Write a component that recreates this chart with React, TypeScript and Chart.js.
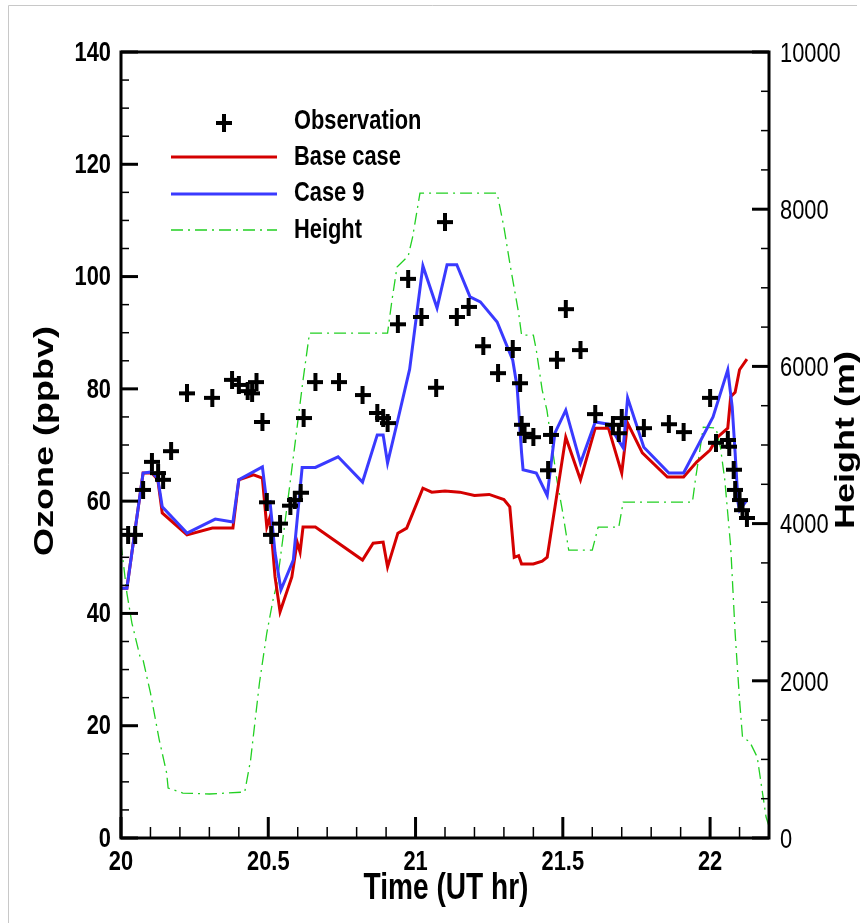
import React, { useEffect, useRef } from "react";
import { Chart, registerables } from "chart.js";

Chart.register(...registerables);

// ---------- data ----------
const obsTime = [
  20.024, 20.048, 20.075, 20.105, 20.126, 20.143, 20.17, 20.224, 20.31, 20.377,
  20.4, 20.43, 20.445, 20.46, 20.48, 20.495, 20.51, 20.54, 20.575, 20.59,
  20.61, 20.62, 20.66, 20.74, 20.82, 20.87, 20.89, 20.905, 20.94, 20.975,
  21.02, 21.07, 21.1, 21.14, 21.18, 21.23, 21.28, 21.33, 21.355, 21.36,
  21.37, 21.4, 21.45, 21.46, 21.48, 21.51, 21.56, 21.61, 21.67, 21.69,
  21.7, 21.775, 21.86, 21.91, 22.0, 22.02, 22.06, 22.065, 22.08, 22.085,
  22.1, 22.11, 22.125,
];
const obsOzone = [
  54, 54, 62, 67, 65, 63.8, 68.9, 79.2, 78.4, 81.6,
  80.7, 79.6, 79.2, 81.2, 74.1, 59.8, 54, 56, 59.2, 60.2,
  61.5, 74.8, 81.2, 81.2, 78.9, 75.7, 74.8, 73.9, 91.5, 99.6,
  92.8, 80.2, 109.7, 92.8, 94.6, 87.6, 82.8, 87.1, 81, 73.6,
  72, 71.4, 65.5, 71.8, 85.2, 94.2, 86.9, 75.5, 73.6, 72.1,
  74.8, 73, 73.7, 72.3, 78.4, 70.4, 70.9, 69.7, 65.6, 62,
  60.2, 58.4, 57,
];

const baseTime = [
  20.0, 20.02, 20.075, 20.105, 20.125, 20.14, 20.224, 20.31, 20.38, 20.4,
  20.45, 20.48, 20.495, 20.506, 20.523, 20.54, 20.58, 20.598, 20.608, 20.618,
  20.66, 20.82, 20.856, 20.89, 20.905, 20.94, 20.97, 21.025, 21.055, 21.1,
  21.15, 21.2, 21.25, 21.3, 21.32, 21.335, 21.35, 21.36, 21.4, 21.43,
  21.447, 21.51, 21.56, 21.61, 21.655, 21.7, 21.72, 21.77, 21.855, 21.91,
  21.955, 22.0, 22.025, 22.06, 22.07, 22.085, 22.1, 22.125,
];
const baseOzone = [
  44.5, 44.5, 65, 65, 63.8, 57.9, 54, 55.2, 55.2, 63.8,
  64.7, 64.1, 55.4, 57.2, 46.5, 40.3, 46.5, 52.7, 50.9, 55.4,
  55.4, 49.5, 52.5, 52.7, 48.3, 54.3, 55.2, 62.3, 61.6, 61.8,
  61.6, 61.0, 61.2, 60.3, 59, 50, 50.3, 48.8, 48.8, 49.3,
  50, 71.4, 63.8, 73, 73, 65, 73.9, 68.6, 64.3, 64.3,
  67, 69.1, 71.4, 73, 78.6, 79.4, 83.4, 85.3,
];

const case9Time = [
  20.0, 20.02, 20.075, 20.105, 20.125, 20.14, 20.224, 20.32, 20.38, 20.4,
  20.48, 20.495, 20.506, 20.523, 20.543, 20.585, 20.615, 20.66, 20.737, 20.82,
  20.87, 20.89, 20.905, 20.94, 20.98, 21.01, 21.025, 21.073, 21.107, 21.14,
  21.185, 21.22, 21.277, 21.33, 21.345, 21.36, 21.365, 21.41, 21.447, 21.473,
  21.51, 21.56, 21.61, 21.655, 21.705, 21.72, 21.775, 21.86, 21.91, 22.01,
  22.06, 22.075, 22.085, 22.095, 22.1, 22.125,
];
const case9Ozone = [
  44.5, 44.5, 65, 65.2, 64, 59, 54.3, 56.8, 56.3, 63.8,
  66.1, 59.7, 59.9, 50.8, 44.2, 49.5, 66, 66, 67.9, 63.4,
  71.8, 71.8, 66.8, 74.5, 83.5, 95.8, 101.9, 94.4, 102.1, 102.1,
  96.4, 95.5, 91.9, 85.1, 80.3, 68.6, 65.6, 65, 61, 72.1,
  76.2, 66.8, 74.1, 73.7, 69.5, 78.4, 69.6, 65, 65, 75,
  83.4, 76.8, 68.6, 59.7, 58.4, 60.2,
];

const heightTime = [
  20.0, 20.02, 20.037, 20.065, 20.075, 20.1, 20.13, 20.155, 20.16, 20.21,
  20.3, 20.42, 20.44, 20.47, 20.495, 20.516, 20.53, 20.574, 20.618, 20.64,
  20.905, 20.92, 20.937, 20.975, 20.99, 21.015, 21.277, 21.3, 21.32, 21.35,
  21.36, 21.4, 21.41, 21.43, 21.446, 21.48, 21.5, 21.52, 21.6, 21.62,
  21.69, 21.705, 21.94, 21.95, 21.977, 22.02, 22.035, 22.05, 22.07, 22.085,
  22.1, 22.11, 22.135, 22.16, 22.17, 22.19, 22.2,
];
const heightMeters = [
  3750, 3116, 2735, 2300, 2264, 1845, 1246, 827, 636, 572,
  560, 585, 992, 1972, 2608, 3027, 3244, 4516, 5826, 6424,
  6424, 6843, 7263, 7403, 7645, 8204, 8204, 7772, 7314, 6678,
  6398, 6398, 6207, 5699, 5444, 4554, 4134, 3663, 3663, 3956,
  3956, 4274, 4274, 4554, 5228, 5215, 4973, 4554, 3702, 2608,
  1755, 1285, 1221, 1030, 776, 267, 150,
];

const ozoneTicks = [0, 20, 40, 60, 80, 100, 120, 140];
const heightTicks = [0, 2000, 4000, 6000, 8000, 10000];
const timeTicks = [20, 20.5, 21, 21.5, 22];
const legendLabels = ["Observation", "Base case", "Case 9", "Height"];
const xTitle = "Time (UT hr)";
const yTitle = "Ozone (ppbv)";
const y2Title = "Height (m)";

// ---------- styles ----------
const RED = "#d40000";
const BLUE = "#3a3aff";
const GREEN = "#22d022";
const GREEN_DASH = [12, 5, 2, 5];
const SX = 0.78;
const FF = '"Liberation Sans", Arial, Helvetica, sans-serif';

function makeCross(): HTMLCanvasElement {
  const c = document.createElement("canvas");
  c.width = 16;
  c.height = 18;
  const g = c.getContext("2d") as CanvasRenderingContext2D;
  g.fillStyle = "#000";
  g.fillRect(0, 7, 16, 4);
  g.fillRect(6, 0, 4, 18);
  return c;
}

function drawText(
  ctx: CanvasRenderingContext2D,
  s: string,
  x: number,
  y: number,
  font: string,
  align: CanvasTextAlign,
  rotate = false
) {
  ctx.save();
  ctx.translate(x, y);
  ctx.scale(SX, 1);
  if (rotate) ctx.rotate(-Math.PI / 2);
  ctx.font = font;
  ctx.textAlign = align;
  ctx.textBaseline = "middle";
  ctx.fillStyle = "#000";
  ctx.fillText(s, 0, 0);
  ctx.restore();
}

function tick(ctx: CanvasRenderingContext2D, x1: number, y1: number, x2: number, y2: number, w: number) {
  ctx.lineWidth = w;
  ctx.beginPath();
  ctx.moveTo(x1, y1);
  ctx.lineTo(x2, y2);
  ctx.stroke();
}

export default function App() {
  const ref = useRef<HTMLCanvasElement | null>(null);

  useEffect(() => {
    const canvas = ref.current;
    if (!canvas) return;
    const cross = makeCross();

    const decor = {
      id: "decor",
      beforeDraw(chart: any) {
        const ctx = chart.ctx as CanvasRenderingContext2D;
        ctx.save();
        ctx.fillStyle = "#fff";
        ctx.fillRect(0, 0, chart.width, chart.height);
        ctx.strokeStyle = "#c8c8c8";
        ctx.lineWidth = 1;
        ctx.beginPath();
        ctx.moveTo(8.5, chart.height);
        ctx.lineTo(8.5, 5.5);
        ctx.lineTo(857, 5.5);
        ctx.stroke();
        ctx.restore();
      },
      afterDraw(chart: any) {
        const ctx = chart.ctx as CanvasRenderingContext2D;
        const a = chart.chartArea;
        const xs = chart.scales.x;
        const ys = chart.scales.y;
        const y2 = chart.scales.y2;
        ctx.save();
        ctx.strokeStyle = "#000";
        ctx.lineCap = "butt";

        // left axis ticks (inward)
        for (let v = 0; v <= 140; v += 5) {
          const py = ys.getPixelForValue(v);
          const major = v % 20 === 0;
          tick(ctx, a.left, py, a.left + (major ? 17 : 8), py, major ? 3 : 1.5);
        }
        // right axis ticks
        for (let v = 0; v <= 10000; v += 500) {
          const py = y2.getPixelForValue(v);
          const major = v % 2000 === 0;
          tick(ctx, a.right, py, a.right - (major ? 17 : 8), py, major ? 3 : 1.5);
        }
        // bottom ticks
        for (let i = 0; i <= 22; i++) {
          const v = 20 + i / 10;
          const px = xs.getPixelForValue(v);
          const major = i % 5 === 0;
          tick(ctx, px, a.bottom, px, a.bottom - (major ? 21 : 11), major ? 3 : 1.5);
        }
        // frame
        ctx.lineWidth = 3;
        ctx.strokeRect(a.left, a.top, a.right - a.left, a.bottom - a.top);

        // tick labels
        ozoneTicks.forEach((v) => {
          drawText(ctx, String(v), a.left - 10, ys.getPixelForValue(v) + 1, `bold 28px ${FF}`, "right");
        });
        heightTicks.forEach((v) => {
          drawText(ctx, String(v), a.right + 11, y2.getPixelForValue(v) + 2, `28px ${FF}`, "left");
        });
        timeTicks.forEach((v) => {
          drawText(ctx, String(v), xs.getPixelForValue(v), a.bottom + 24, `bold 28px ${FF}`, "center");
        });

        // axis titles
        drawText(ctx, xTitle, (a.left + a.right) / 2 + 1, a.bottom + 51, `bold 36px ${FF}`, "center");
        drawText(ctx, yTitle, 45, (a.top + a.bottom) / 2 - 4, `bold 36px ${FF}`, "center", true);
        drawText(ctx, y2Title, 846, (a.top + a.bottom) / 2 - 5, `bold 36px ${FF}`, "center", true);

        // legend
        const lx1 = 171, lx2 = 277, tx = 294;
        const rows = [121, 157, 193, 230];
        ctx.drawImage(cross, 224 - 8, rows[0] + 2 - 9);
        ctx.lineWidth = 3;
        ctx.strokeStyle = RED;
        ctx.beginPath(); ctx.moveTo(lx1, rows[1]); ctx.lineTo(lx2, rows[1]); ctx.stroke();
        ctx.strokeStyle = BLUE;
        ctx.beginPath(); ctx.moveTo(lx1, rows[2] + 1); ctx.lineTo(lx2, rows[2] + 1); ctx.stroke();
        ctx.strokeStyle = GREEN;
        ctx.lineWidth = 1.3;
        ctx.setLineDash(GREEN_DASH);
        ctx.beginPath(); ctx.moveTo(lx1, rows[3]); ctx.lineTo(lx2, rows[3]); ctx.stroke();
        ctx.setLineDash([]);
        legendLabels.forEach((l, i) => {
          drawText(ctx, l, tx, rows[i], `bold 28px ${FF}`, "left");
        });
        ctx.restore();
      },
    };

    const chart = new Chart(canvas, {
      type: "line",
      data: {
        datasets: [
          {
            label: legendLabels[0],
            data: obsTime.map((t, i) => ({ x: t, y: obsOzone[i] })),
            showLine: false,
            pointStyle: cross as any,
            pointRadius: 8,
            yAxisID: "y",
            order: 0,
          },
          {
            label: legendLabels[2],
            data: case9Time.map((t, i) => ({ x: t, y: case9Ozone[i] })),
            borderColor: BLUE,
            borderWidth: 3,
            pointRadius: 0,
            tension: 0,
            yAxisID: "y",
            order: 1,
          },
          {
            label: legendLabels[1],
            data: baseTime.map((t, i) => ({ x: t, y: baseOzone[i] })),
            borderColor: RED,
            borderWidth: 3,
            pointRadius: 0,
            tension: 0,
            yAxisID: "y",
            order: 2,
          },
          {
            label: legendLabels[3],
            data: heightTime.map((t, i) => ({ x: t, y: heightMeters[i] })),
            borderColor: GREEN,
            borderWidth: 1.3,
            borderDash: GREEN_DASH,
            pointRadius: 0,
            tension: 0,
            yAxisID: "y2",
            order: 3,
          },
        ],
      },
      options: {
        responsive: false,
        animation: false,
        devicePixelRatio: 1,
        events: [],
        layout: { padding: { left: 121, right: 93, top: 52, bottom: 85 } },
        plugins: { legend: { display: false }, tooltip: { enabled: false } },
        scales: {
          x: { type: "linear", min: 20, max: 22.2, display: false },
          y: { type: "linear", min: 0, max: 140, display: false },
          y2: { type: "linear", min: 0, max: 10000, display: false, position: "right" },
        },
      } as any,
      plugins: [decor],
    });

    return () => chart.destroy();
  }, []);

  return (
    <div style={{ position: "absolute", left: 0, top: 0, width: 862, height: 923, background: "#fff" }}>
      <canvas ref={ref} width={862} height={923} style={{ width: 862, height: 923, display: "block" }} />
    </div>
  );
}
